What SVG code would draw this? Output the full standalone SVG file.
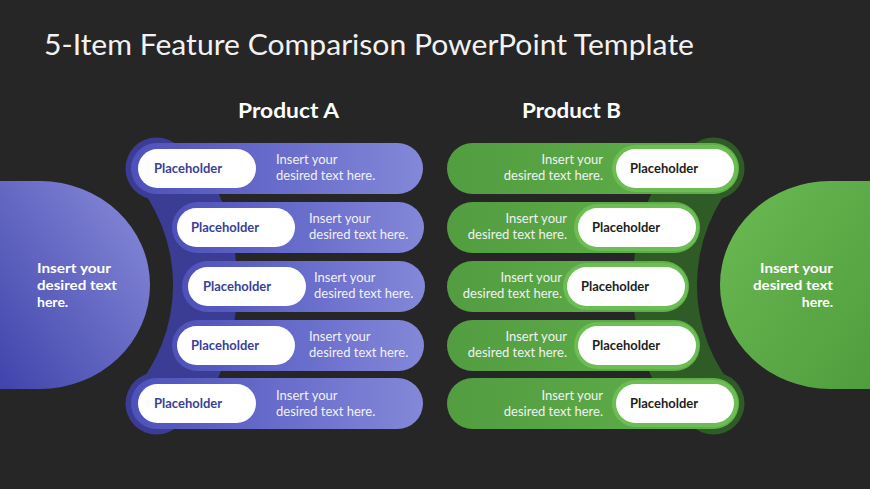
<svg xmlns="http://www.w3.org/2000/svg" width="870" height="489" viewBox="0 0 870 489">
<defs>
<linearGradient id="gBig" x1="0" y1="1" x2="1" y2="0">
<stop offset="0" stop-color="#4044ab"/><stop offset="1" stop-color="#8a8dda"/>
</linearGradient>
<linearGradient id="gGreenBig" x1="0" y1="0" x2="1" y2="1">
<stop offset="0" stop-color="#6cba53"/><stop offset="1" stop-color="#4f9d3d"/>
</linearGradient>
<linearGradient id="gPillA" x1="0" y1="0" x2="1" y2="0">
<stop offset="0" stop-color="#4d51ba"/><stop offset="0.45" stop-color="#6569c9"/><stop offset="1" stop-color="#8488d8"/>
</linearGradient>
<linearGradient id="gPillB" x1="0" y1="0" x2="1" y2="0">
<stop offset="0" stop-color="#529d40"/><stop offset="1" stop-color="#62b04b"/>
</linearGradient>
<style>
.t{font-family:Lato,"Open Sans","DejaVu Sans",sans-serif}
.title{font-size:28px;fill:#f2f2f2}
.head{font-size:21px;font-weight:bold;fill:#ffffff}
.ph{font-size:13px;font-weight:bold}
.phA{fill:#3b3f97}
.phB{fill:#1e1e1e}
.desc{font-size:13px;fill:#f1f1f5}
.big{font-size:14px;font-weight:bold;fill:#ffffff}
.white{fill:#ffffff}
.bkA{fill:#3b3d95}
.bkB{fill:#2f5b27}
.ringB{fill:#6cbd53}
</style>
</defs>
<rect width="870" height="489" fill="#262626"/>
<text class="t title" x="44" y="55" textLength="650" lengthAdjust="spacingAndGlyphs">5-Item Feature Comparison PowerPoint Template</text>
<text class="t head" x="288.5" y="118" text-anchor="middle" textLength="101" lengthAdjust="spacingAndGlyphs">Product A</text>
<text class="t head" x="571.5" y="118" text-anchor="middle" textLength="99" lengthAdjust="spacingAndGlyphs">Product B</text>

<g id="backingA" class="bkA">
<circle cx="156.5" cy="168.5" r="31"/>
<circle cx="156.5" cy="403.5" r="31"/>
<path d="M130,175 A162,162 0 0 1 130,395 L210,395 A236,236 0 0 0 210,175 Z"/>
</g>
<g id="backingB" class="bkB" transform="translate(870,0) scale(-1,1)">
<circle cx="156.5" cy="168.5" r="31"/>
<circle cx="156.5" cy="403.5" r="31"/>
<path d="M130,175 A162,162 0 0 1 130,395 L210,395 A236,236 0 0 0 210,175 Z"/>
</g>

<g id="productA">
<path d="M0,181 H40 A110,104 0 0 1 40,389 H0 Z" fill="url(#gBig)"/>
<text class="t big" x="37" y="273" textLength="74" lengthAdjust="spacingAndGlyphs">Insert your</text>
<text class="t big" x="37" y="290" textLength="80" lengthAdjust="spacingAndGlyphs">desired text</text>
<text class="t big" x="37" y="307">here.</text>
</g>
<g id="productB">
<path d="M870,181 H830 A110,104 0 0 0 830,389 H870 Z" fill="url(#gGreenBig)"/>
<text class="t big" x="833" y="273" text-anchor="end" textLength="73" lengthAdjust="spacingAndGlyphs">Insert your</text>
<text class="t big" x="833" y="290" text-anchor="end" textLength="80" lengthAdjust="spacingAndGlyphs">desired text</text>
<text class="t big" x="833" y="307" text-anchor="end">here.</text>
</g>

<g id="a1">
<rect x="131" y="143" width="292" height="51" rx="25.5" fill="url(#gPillA)"/>
<rect x="138" y="149" width="118" height="39" rx="19.5" class="white"/>
<text class="t ph phA" x="154" y="173">Placeholder</text>
<text class="t desc" x="276" y="164">Insert your</text>
<text class="t desc" x="276" y="180">desired text here.</text>
</g>
<g id="a2">
<rect x="172" y="202" width="252" height="51" rx="25.5" fill="url(#gPillA)"/>
<rect x="177" y="208" width="118" height="39" rx="19.5" class="white"/>
<text class="t ph phA" x="191" y="232">Placeholder</text>
<text class="t desc" x="309" y="223">Insert your</text>
<text class="t desc" x="309" y="239">desired text here.</text>
</g>
<g id="a3">
<rect x="182" y="261" width="243" height="51" rx="25.5" fill="url(#gPillA)"/>
<rect x="188" y="267" width="118" height="39" rx="19.5" class="white"/>
<text class="t ph phA" x="203" y="291">Placeholder</text>
<text class="t desc" x="314" y="282">Insert your</text>
<text class="t desc" x="314" y="298">desired text here.</text>
</g>
<g id="a4">
<rect x="172" y="320" width="252" height="51" rx="25.5" fill="url(#gPillA)"/>
<rect x="177" y="326" width="118" height="39" rx="19.5" class="white"/>
<text class="t ph phA" x="191" y="350">Placeholder</text>
<text class="t desc" x="309" y="341">Insert your</text>
<text class="t desc" x="309" y="357">desired text here.</text>
</g>
<g id="a5">
<rect x="131" y="378" width="292" height="51" rx="25.5" fill="url(#gPillA)"/>
<rect x="138" y="384" width="118" height="39" rx="19.5" class="white"/>
<text class="t ph phA" x="154" y="408">Placeholder</text>
<text class="t desc" x="276" y="400">Insert your</text>
<text class="t desc" x="276" y="416">desired text here.</text>
</g>

<g id="b1">
<rect x="447" y="143" width="292" height="51" rx="25.5" fill="url(#gPillB)"/>
<rect x="612" y="145" width="126" height="47" rx="23.5" class="ringB"/>
<rect x="616" y="149" width="118" height="39" rx="19.5" class="white"/>
<text class="t ph phB" x="630" y="173">Placeholder</text>
<text class="t desc" x="603" y="164" text-anchor="end">Insert your</text>
<text class="t desc" x="603" y="180" text-anchor="end">desired text here.</text>
</g>
<g id="b2">
<rect x="447" y="202" width="253" height="51" rx="25.5" fill="url(#gPillB)"/>
<rect x="574" y="204" width="125" height="47" rx="23.5" class="ringB"/>
<rect x="578" y="208" width="118" height="39" rx="19.5" class="white"/>
<text class="t ph phB" x="592" y="232">Placeholder</text>
<text class="t desc" x="567" y="223" text-anchor="end">Insert your</text>
<text class="t desc" x="567" y="239" text-anchor="end">desired text here.</text>
</g>
<g id="b3">
<rect x="447" y="261" width="242" height="51" rx="25.5" fill="url(#gPillB)"/>
<rect x="563" y="263" width="125" height="47" rx="23.5" class="ringB"/>
<rect x="567" y="267" width="118" height="39" rx="19.5" class="white"/>
<text class="t ph phB" x="581" y="291">Placeholder</text>
<text class="t desc" x="562" y="282" text-anchor="end">Insert your</text>
<text class="t desc" x="562" y="298" text-anchor="end">desired text here.</text>
</g>
<g id="b4">
<rect x="447" y="320" width="253" height="51" rx="25.5" fill="url(#gPillB)"/>
<rect x="574" y="322" width="125" height="47" rx="23.5" class="ringB"/>
<rect x="578" y="326" width="118" height="39" rx="19.5" class="white"/>
<text class="t ph phB" x="592" y="350">Placeholder</text>
<text class="t desc" x="567" y="341" text-anchor="end">Insert your</text>
<text class="t desc" x="567" y="357" text-anchor="end">desired text here.</text>
</g>
<g id="b5">
<rect x="447" y="378" width="292" height="51" rx="25.5" fill="url(#gPillB)"/>
<rect x="612" y="380" width="126" height="47" rx="23.5" class="ringB"/>
<rect x="616" y="384" width="118" height="39" rx="19.5" class="white"/>
<text class="t ph phB" x="630" y="408">Placeholder</text>
<text class="t desc" x="603" y="400" text-anchor="end">Insert your</text>
<text class="t desc" x="603" y="416" text-anchor="end">desired text here.</text>
</g>
<g id="connectors"/>
</svg>
